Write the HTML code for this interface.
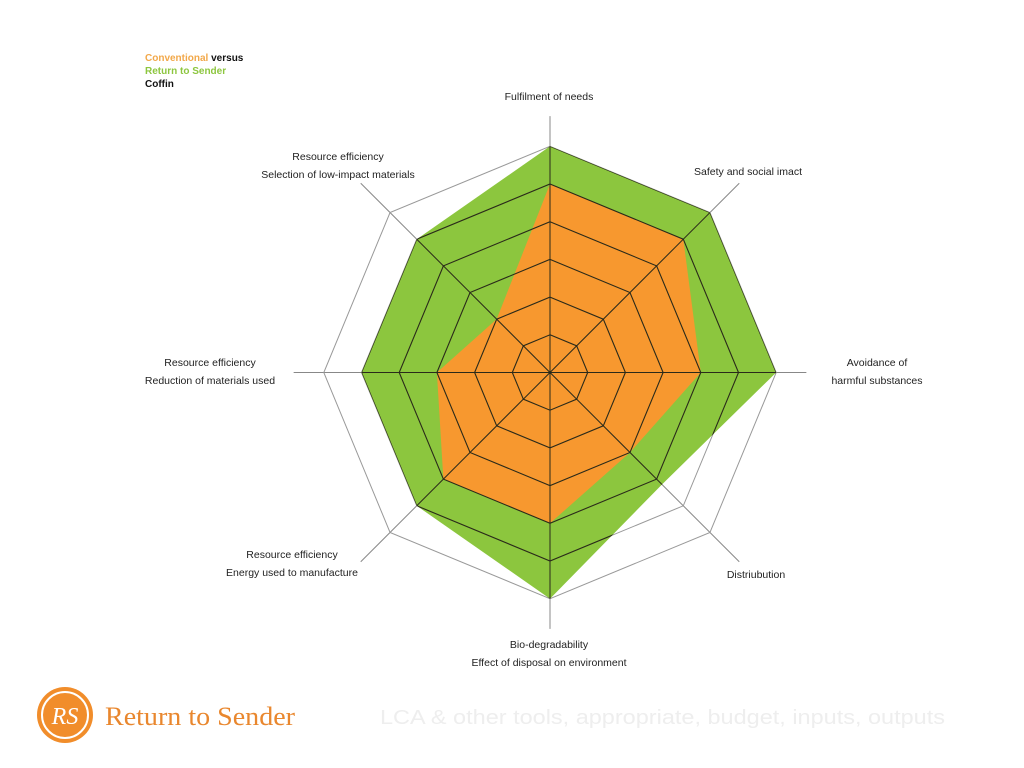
<!DOCTYPE html>
<html><head><meta charset="utf-8">
<style>
body{margin:0;background:#fff;width:1024px;height:768px;overflow:hidden;position:relative;font-family:"Liberation Sans",sans-serif}
svg{position:absolute;left:0;top:0}
</style></head>
<body>
<svg id="chart" width="1024" height="768">
  <defs><clipPath id="greenClip"><polygon id="clipPoly" points=""/></clipPath></defs>
  <g id="legend" font-size="10" font-weight="bold" font-family="Liberation Sans, sans-serif">
    <text x="145" y="61"><tspan fill="#f2a84a">Conventional</tspan> <tspan fill="#111">versus</tspan></text>
    <text x="145" y="74" fill="#8dc63f">Return to Sender</text>
    <text x="145" y="87" fill="#111">Coffin</text>
  </g>
  <g id="grid"></g>
  <g id="series"></g>
  <g id="rings" clip-path="url(#greenClip)"></g>
  <g id="labels" font-size="10.5" fill="#222" text-anchor="middle" font-family="Liberation Sans, sans-serif"></g>
  <g>
    <circle cx="65" cy="715" r="28" fill="#f18d2b"/>
    <circle cx="65" cy="715" r="23" fill="none" stroke="#fff" stroke-width="2"/>
    <text x="65" y="724" fill="#fff" font-size="24" font-style="italic" text-anchor="middle" font-family="Liberation Serif, serif">RS</text>
  </g>
  <text x="105" y="725" fill="#e9872e" font-size="26" textLength="190" lengthAdjust="spacingAndGlyphs" font-family="Liberation Serif, serif">Return to Sender</text>
  <text x="380" y="724" fill="#eeeeee" font-size="20" textLength="565" lengthAdjust="spacingAndGlyphs" font-family="Liberation Sans, sans-serif">LCA &amp; other tools, appropriate, budget, inputs, outputs</text>
</svg>
<script>
const categories = ["Fulfilment of needs","Safety and social imact","Avoidance of harmful substances","Distriubution","Bio-degradability","Energy used to manufacture","Reduction of materials used","Selection of low-impact materials"];
const returnToSender = [6,6,6,4.2,6,5,5,5];
const conventional = [5,5,4,3,4,4,3,2];
const ringLevels = [1,2,3,4,5,6];
const labelLines = [
 ["Fulfilment of needs"],["Safety and social imact"],["Avoidance of","harmful substances"],["Distriubution"],
 ["Bio-degradability","Effect of disposal on environment"],["Resource efficiency","Energy used to manufacture"],
 ["Resource efficiency","Reduction of materials used"],["Resource efficiency","Selection of low-impact materials"]];
const CX=550, CY=372.5, STEP=37.7, NS="http://www.w3.org/2000/svg";
const labelPos=[[549,100],[748,175],[877,366],[756,578],[549,648],[292,558],[210,366],[338,160]];
function ang(i){return -Math.PI/2 + i*2*Math.PI/categories.length;}
function pt(i,v){const a=ang(i);return [CX+Math.cos(a)*v*STEP, CY+Math.sin(a)*v*STEP];}
function poly(vals){return vals.map((v,i)=>pt(i,v).join(",")).join(" ");}
function mk(tag,attrs,parent){const e=document.createElementNS(NS,tag);for(const k in attrs)e.setAttribute(k,attrs[k]);parent.appendChild(e);return e;}
const grid=document.getElementById('grid'), series=document.getElementById('series'), rings=document.getElementById('rings'), labels=document.getElementById('labels');
document.getElementById('clipPoly').setAttribute('points',poly(returnToSender));
categories.forEach((c,i)=>{
  const len = (i%2===0)?6.8:7.1;
  const p=pt(i,len);
  const l=mk('line',{x1:CX,y1:CY,x2:p[0],y2:p[1],stroke:'#888','stroke-width':1},grid);
  
  
});
ringLevels.forEach(r=>{
  const e=mk('polygon',{points:poly(categories.map(()=>r)),fill:'none',stroke:'#999','stroke-width':1},grid);
  
  
});
const g1=mk('polygon',{points:poly(returnToSender),fill:'#8cc63e'},series);


const g2=mk('polygon',{points:poly(conventional),fill:'#f7982f'},series);


ringLevels.forEach(r=>{
  const e=mk('polygon',{points:poly(categories.map(()=>r)),fill:'none',stroke:'#2a2a1a','stroke-width':1.1},rings);
  
  
});
categories.forEach((c,i)=>{
  const q=pt(i,6);
  const l=mk('line',{x1:CX,y1:CY,x2:q[0],y2:q[1],stroke:'#2a2a1a','stroke-width':1},rings);
  
  
});
labelLines.forEach((lines,i)=>{
  const t=mk('text',{x:labelPos[i][0],y:labelPos[i][1]},labels);
  
  
  lines.forEach((s,k)=>{const ts=mk('tspan',{x:labelPos[i][0],dy:k?18:0},t);ts.textContent=s;});
});
</script>
</body></html>
